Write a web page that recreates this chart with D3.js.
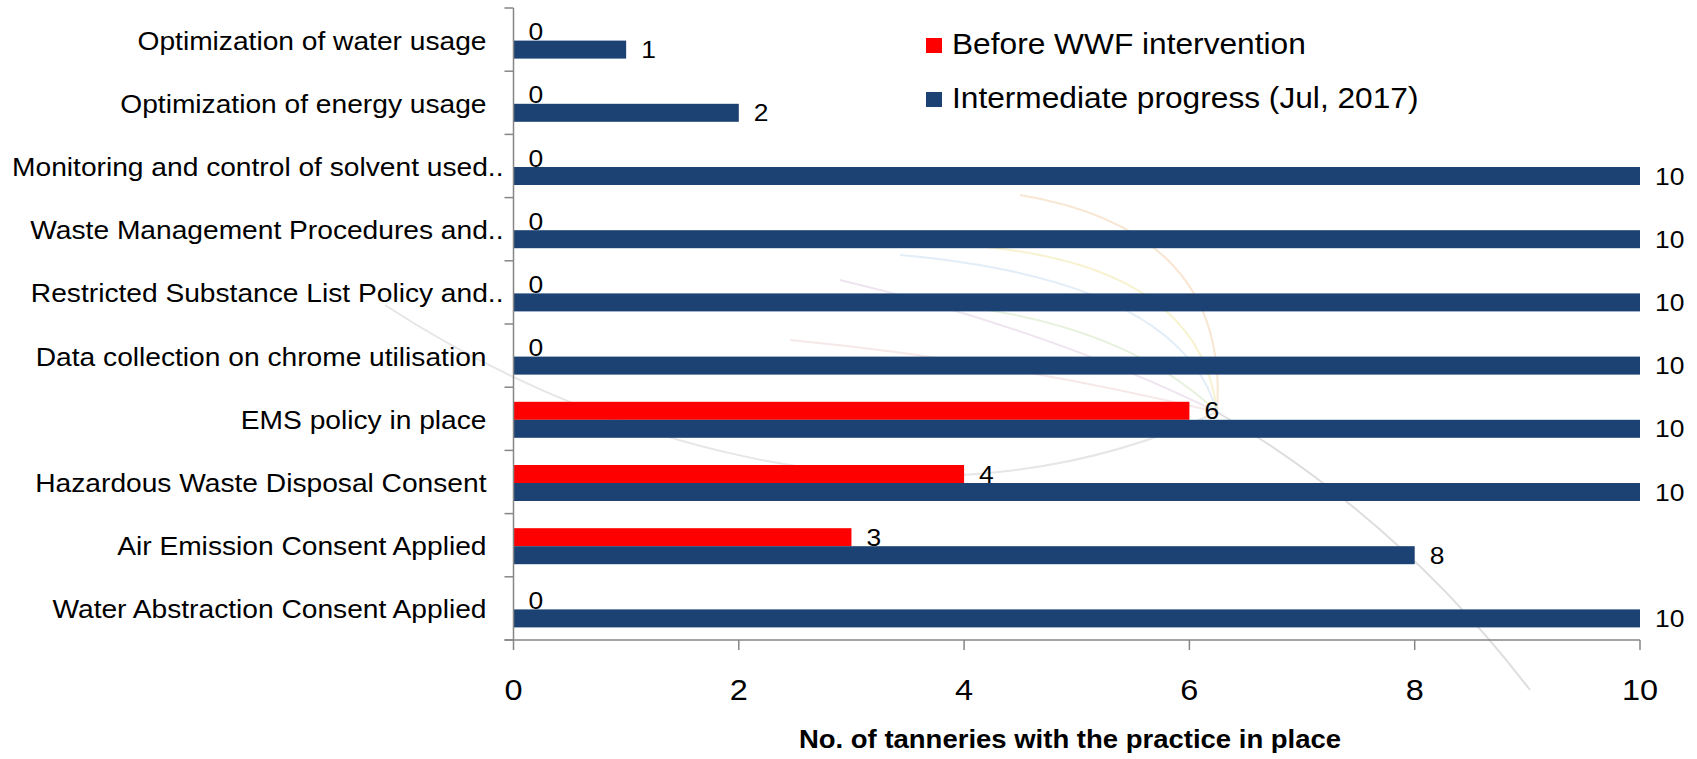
<!DOCTYPE html>
<html>
<head>
<meta charset="utf-8">
<script src="https://cdn.jsdelivr.net/npm/d3@7"></script>
<style>
  body { margin: 0; background: #fff; }
  text { font-family: "Liberation Sans", Arial, sans-serif; fill: #000; }
</style>
</head>
<body>
<div id="chart"></div>
<script>
// categories, top to bottom as they appear
const categories = [
  "Optimization of water usage",
  "Optimization of energy usage",
  "Monitoring and control of solvent used..",
  "Waste Management Procedures and..",
  "Restricted Substance List Policy and..",
  "Data collection on chrome utilisation",
  "EMS policy in place",
  "Hazardous Waste Disposal Consent",
  "Air Emission Consent Applied",
  "Water Abstraction Consent Applied"
];
const beforeWWF = [0, 0, 0, 0, 0, 0, 6, 4, 3, 0];
const intermediate = [1, 2, 10, 10, 10, 10, 10, 10, 8, 10];
const seriesNames = ["Before WWF intervention", "Intermediate progress (Jul, 2017)"];
const xTicks = [0, 2, 4, 6, 8, 10];

const W = 1697, H = 759;
const SX = 1.1; // the source picture is a little stretched sideways
const colors = ["#ff0000", "#1c4173"];

const svg = d3.select("#chart").append("svg")
  .attr("width", W).attr("height", H);

// faint watermark swirl behind the plot
const wm = svg.append("g").attr("fill", "none").attr("stroke-width", 2);
wm.append("path").attr("d", "M385 305 C560 420 900 560 1217 412").attr("stroke", "#e6e6e6");
wm.append("path").attr("d", "M1217 412 Q1400 520 1530 690").attr("stroke", "#dedede");
const fan = [["#f5dcc0", "M1217 412 Q1230 230 1020 195"], ["#f3ecbc", "M1217 412 Q1200 260 960 245"],
  ["#d5e6f3", "M1217 412 Q1180 280 900 255"], ["#dbedcf", "M1217 412 Q1100 300 850 300"],
  ["#e8d8e8", "M1217 412 Q1050 330 840 280"], ["#f2dede", "M1217 412 Q1000 360 790 340"]];
fan.forEach(f => wm.append("path").attr("d", f[1]).attr("stroke", f[0]).attr("opacity", 0.7));

const x = d3.scaleLinear().domain([0, 10]).range([513.5, 1640]);
const y = d3.scaleBand().domain(categories).range([8, 640]);
const inner = d3.scaleBand().domain(seriesNames).range([0, 36]);
const pad = (y.step() - 36) / 2 + 1;

function stretched(sel) {
  return sel.attr("transform", d => `translate(${d.tx},${d.ty}) scale(${SX},1)`);
}

// bars
const rows = categories.map((c, i) => ({ cat: c, vals: [beforeWWF[i], intermediate[i]] }));
const grp = svg.append("g").selectAll("g").data(rows).join("g")
  .attr("transform", d => `translate(0,${y(d.cat) + pad})`);

grp.selectAll("rect")
  .data(d => d.vals.map((v, k) => ({ v, k })))
  .join("rect")
  .attr("x", x(0))
  .attr("y", d => inner(seriesNames[d.k]))
  .attr("width", d => x(d.v) - x(0))
  .attr("height", inner.bandwidth())
  .attr("fill", d => colors[d.k]);

// value labels
grp.selectAll("text")
  .data(d => d.vals.map((v, k) => ({ v, k, tx: x(v) + 15, ty: inner(seriesNames[k]) + inner.bandwidth() / 2 + 8.5 })))
  .join("text")
  .call(stretched)
  .attr("font-size", 24)
  .text(d => d.v);

// y axis
const axisColor = "#868686";
svg.append("line").attr("x1", x(0)).attr("x2", x(0)).attr("y1", 8).attr("y2", 640)
  .attr("stroke", axisColor).attr("stroke-width", 1.5);
const bounds = categories.map(c => y(c)).concat([640]);
svg.append("g").selectAll("line").data(bounds).join("line")
  .attr("x1", x(0) - 9).attr("x2", x(0)).attr("y1", d => d).attr("y2", d => d)
  .attr("stroke", axisColor).attr("stroke-width", 1.5);

svg.append("g").selectAll("text")
  .data(categories.map(c => ({ c, tx: c.endsWith("..") ? x(0) - 10 : x(0) - 27, ty: y(c) + y.step() / 2 + 10 })))
  .join("text")
  .call(stretched)
  .attr("text-anchor", "end")
  .attr("font-size", 25.6)
  .text(d => d.c);

// x axis
svg.append("line").attr("x1", x(0) - 9).attr("x2", x(10)).attr("y1", 640).attr("y2", 640)
  .attr("stroke", axisColor).attr("stroke-width", 1.5);
svg.append("g").selectAll("line").data(xTicks).join("line")
  .attr("x1", d => x(d)).attr("x2", d => x(d)).attr("y1", 640).attr("y2", 650)
  .attr("stroke", axisColor).attr("stroke-width", 1.5);
svg.append("g").selectAll("text")
  .data(xTicks.map(t => ({ t, tx: x(t), ty: 700 })))
  .join("text")
  .call(stretched)
  .attr("text-anchor", "middle")
  .attr("font-size", 29.5)
  .text(d => d.t);

svg.append("g").selectAll("text")
  .data([{ t: "No. of tanneries with the practice in place", tx: 1070, ty: 748 }])
  .join("text")
  .call(stretched)
  .attr("text-anchor", "middle")
  .attr("font-size", 25)
  .attr("font-weight", "bold")
  .text(d => d.t);

// legend
const leg = svg.append("g").selectAll("g")
  .data(seriesNames.map((s, k) => ({ s, k })))
  .join("g")
  .attr("transform", d => `translate(926,${38 + d.k * 54})`);
leg.append("rect").attr("width", 16).attr("height", 15).attr("fill", d => colors[d.k]);
leg.append("text")
  .datum(d => ({ s: d.s, tx: 26, ty: 16 }))
  .call(stretched)
  .attr("font-size", 28.8)
  .text(d => d.s);
</script>
</body>
</html>
